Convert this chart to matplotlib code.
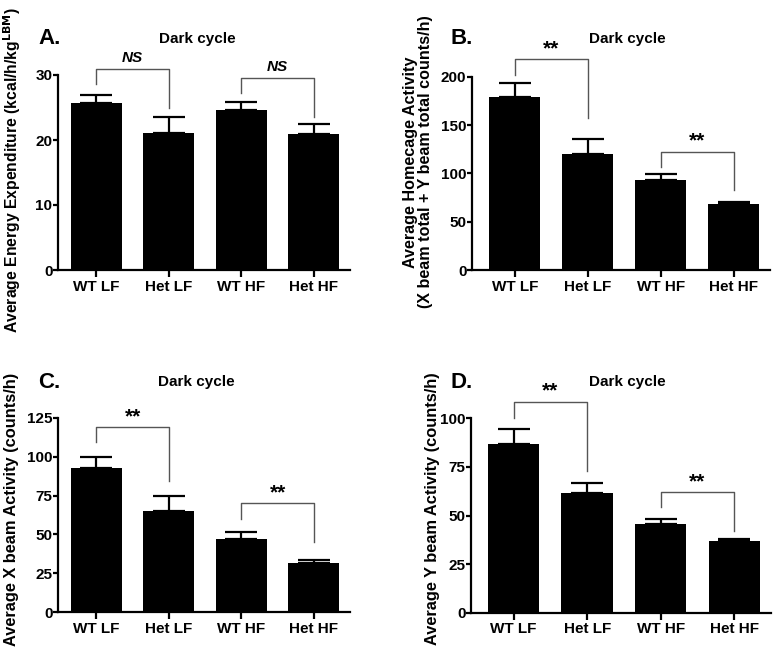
import numpy as np
import matplotlib.pyplot as plt

plt.rcParams['font.family'] = ['Liberation Sans', 'DejaVu Sans']
plt.rcParams['font.weight'] = 'bold'

groups = ['WT LF', 'Het LF', 'WT HF', 'Het HF']

# panel A: energy expenditure
ee_mean = [25.7, 21.1, 24.6, 21.0]
ee_sem = [1.3, 2.4, 1.3, 1.4]
# panel B: homecage activity
home_mean = [179.3, 120.3, 93.1, 68.3]
home_sem = [14.5, 15.2, 6.2, 2.0]
# panel C: X beam
xb_mean = [92.9, 64.9, 47.3, 31.7]
xb_sem = [7.0, 10.0, 4.3, 1.9]
# panel D: Y beam
yb_mean = [86.6, 61.4, 45.6, 37.0]
yb_sem = [7.9, 5.5, 2.6, 1.1]

# brackets: (bar i, bar j, left foot, top, right foot, label)
ee_br = [(0, 1, 28.6, 30.9, 24.9, 'NS'), (2, 3, 27.2, 29.6, 23.6, 'NS')]
home_br = [(0, 1, 201.7, 218, 157, '**'), (2, 3, 106.9, 122.4, 82.8, '**')]
xb_br = [(0, 1, 109.2, 119, 84.5, '**'), (2, 3, 59.9, 70, 45.3, '**')]
yb_br = [(0, 1, 100.3, 108.5, 73.0, '**'), (2, 3, 54.5, 62.1, 42.2, '**')]

W, H = 776, 655
fig = plt.figure(figsize=(W / 100, H / 100), dpi=100)


def px_axes(x0, x1, y_top, y_bot):
    return fig.add_axes([x0 / W, 1 - y_bot / H, (x1 - x0) / W, (y_bot - y_top) / H])


def panel(ax, means, sems, ymax, step, brackets, xleft):
    x = np.arange(len(groups))
    ax.bar(x, means, width=0.7, color='black')
    ax.errorbar(x, means, yerr=[np.zeros(len(sems)), sems], fmt='none',
                ecolor='black', elinewidth=1.6, capsize=11.5, capthick=1.6)
    for i, j, yl, yt, yr, lab in brackets:
        ax.plot([i, i, j, j], [yl, yt, yt, yr], color='#555555', lw=1.0, clip_on=False)
        if lab == 'NS':
            ax.text((i + j) / 2, yt + ymax * 0.02, lab, ha='center', va='bottom',
                    fontsize=11, style='italic', fontweight='bold')
        else:
            ax.text((i + j) / 2, yt + ymax * 0.005, lab, ha='center', va='bottom',
                    fontsize=15, fontweight='bold')
    ax.set_xlim(xleft, 3.5)
    ax.set_ylim(0, ymax)
    ax.set_yticks(np.arange(0, ymax + step / 2, step))
    ax.set_xticks(x)
    ax.set_xticklabels(groups)
    for s in ['top', 'right']:
        ax.spines[s].set_visible(False)
    for s in ['left', 'bottom']:
        ax.spines[s].set_linewidth(1.6)
    ax.tick_params(axis='x', width=1.6, length=5, labelsize=11, pad=2)
    ax.tick_params(axis='y', width=1.6, length=3.5, labelsize=11, pad=0.5)
    for t in ax.get_xticklabels() + ax.get_yticklabels():
        t.set_fontweight('bold')


axA = px_axes(58, 350, 75, 270)
panel(axA, ee_mean, ee_sem, 30, 10, ee_br, -0.53)
axB = px_axes(472, 770, 76.7, 270)
panel(axB, home_mean, home_sem, 200, 50, home_br, -0.59)
axC = px_axes(58, 350, 417.7, 612.3)
panel(axC, xb_mean, xb_sem, 125, 25, xb_br, -0.53)
axD = px_axes(471, 771, 418.3, 612.7)
panel(axD, yb_mean, yb_sem, 100, 25, yb_br, -0.58)


def ftext(x, y, s, **kw):
    fig.text(x / W, 1 - y / H, s, **kw)


for lx, tx, y, letter in [(38, 197, 39, 'A.'), (450, 627, 39, 'B.'),
                          (38, 196, 382, 'C.'), (450, 627, 382, 'D.')]:
    ftext(lx, y, letter, fontsize=16, fontweight='bold', ha='left', va='center')
    ftext(tx, y, 'Dark cycle', fontsize=11, fontweight='bold', ha='center', va='center')

ftext(12, 170, 'Average Energy Expenditure (kcal/h/kg$^{\\mathbf{LBM}}$)', rotation=90,
      fontsize=11.3, fontweight='bold', ha='center', va='center')
ftext(418, 162, 'Average Homecage Activity\n(X beam total + Y beam total counts/h)',
      rotation=90, fontsize=11.6, fontweight='bold', ha='center', va='center',
      multialignment='center', linespacing=1.05)
ftext(12, 509, 'Average X beam Activity (counts/h)', rotation=90,
      fontsize=11.8, fontweight='bold', ha='center', va='center')
ftext(433, 509, 'Average Y beam Activity (counts/h)', rotation=90,
      fontsize=11.8, fontweight='bold', ha='center', va='center')

fig.savefig('out.png', dpi=100)
